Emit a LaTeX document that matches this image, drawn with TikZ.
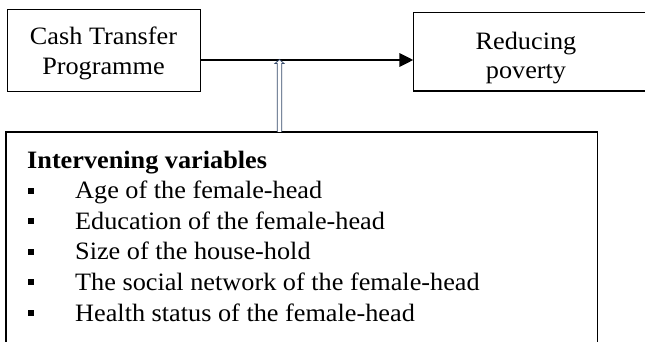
\documentclass[tikz,border=0pt]{standalone}
\usepackage{fontspec}
\setmainfont{Liberation Serif}[FakeStretch=1.05]
\usetikzlibrary{arrows.meta,calc}
\definecolor{navyline}{RGB}{52,72,104}
\begin{document}
\begin{tikzpicture}[x=1pt,y=-1pt,
  box/.style={draw=black,line width=1.3pt,fill=none,inner sep=0pt,anchor=north west},
  openbox/.style={draw=none,inner sep=0pt,anchor=north west},
  edge/.style={draw=black,line width=1.3pt},
  lbl/.style={anchor=base,inner sep=0pt,font=\fontsize{25}{30}\selectfont},
  itm/.style={anchor=base west,inner sep=0pt,font=\fontsize{25}{30}\selectfont},
  bul/.style={fill=black,draw=none,minimum size=6pt,inner sep=0pt},
  mainarrow/.style={line width=1.8pt,-{Triangle[length=14pt,width=13.5pt]}},
  hollow/.style={draw=navyline,line width=0.8pt,fill=white}]
\useasboundingbox (0,0) rectangle (645,342);
% boxes
\node[box,minimum width=193pt,minimum height=82pt] (cash) at (7,9) {};
\node[openbox,minimum width=240pt,minimum height=78pt] (red) at (413.3,12.7) {};
\node[openbox,minimum width=591pt,minimum height=212pt] (inter) at (6,132) {};
\draw[edge] (red.north east) -- (red.north west) -- (red.south west) -- (red.south east);
\draw[edge] (inter.south west) -- (inter.north west) -- (inter.north east) -- (inter.south east);
% box texts
\node[lbl] (t1) at (103.5,45) {Cash Transfer};
\node[lbl] (t2) at (103.5,75) {Programme};
\node[lbl] (t3) at (526,50) {Reducing};
\node[lbl] (t4) at (526,79) {poverty};
% main arrow
\draw[mainarrow] (cash.east |- 0,60) -- (red.west |- 0,60);
% hollow arrow
\coordinate (tip) at (279.5,59.5);
\coordinate (foot) at (279.5,132);
\draw[hollow] ($(foot)+(-2.2,0)$) -- ($(tip)+(-2.2,4)$) -- ($(tip)+(-4.5,4)$) -- (tip)
  -- ($(tip)+(4.5,4)$) -- ($(tip)+(2.2,4)$) -- ($(foot)+(2.2,0)$);
% list
\node[itm,font=\fontsize{25}{30}\selectfont\bfseries] (head) at (27,168) {Intervening variables};
\foreach \t [count=\i] in {Age of the female-head,Education of the female-head,Size of the house-hold,The social network of the female-head,Health status of the female-head}{
  \pgfmathsetmacro{\yy}{168+30.6*\i}
  \node[itm] (item\i) at (75,\yy) {\t};
  \node[bul] (b\i) at (31,\yy-8) {};
}
\end{tikzpicture}
\end{document}
